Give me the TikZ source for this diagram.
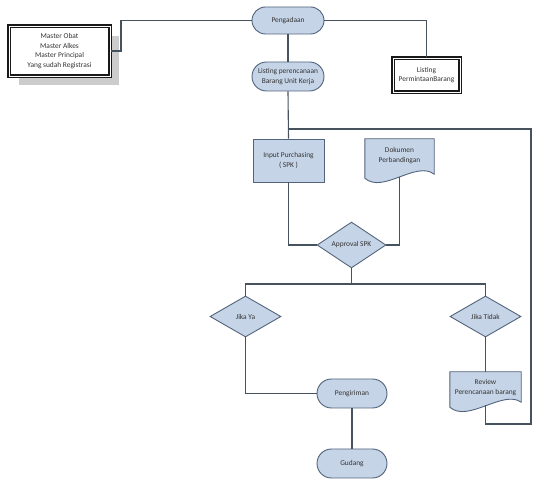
\documentclass[tikz,border=0pt]{standalone}
\usepackage{fontspec}
\setmainfont{Carlito}
\usetikzlibrary{shapes.geometric,shapes.misc,shadows,calc}
\definecolor{fillblue}{HTML}{C6D4E7}
\definecolor{edgeblue}{HTML}{52647C}
\definecolor{linec}{HTML}{46525E}
\definecolor{txt}{HTML}{333333}
\tikzset{
  base/.style={font=\fontsize{7.4}{9.7}\selectfont, text=txt, align=center, inner sep=0pt},
  term/.style={base, rounded rectangle, draw=edgeblue, fill=fillblue, line width=0.9pt},
  procbox/.style={base, rectangle, draw=edgeblue, fill=fillblue, line width=0.9pt},
  decide/.style={base, diamond, draw=edgeblue, fill=fillblue, line width=0.9pt},
  docnode/.style={base, rectangle},
  docline/.style={draw=edgeblue, fill=fillblue, line width=0.9pt},
  databox/.style={base, rectangle, draw=black!90, double=white, double distance=0.6pt, line width=1.3pt, fill=white},
  conn/.style={draw=linec, line width=1.1pt},
}
\begin{document}
\begin{tikzpicture}[x=1pt,y=-1pt]
\useasboundingbox (0,0) rectangle (550,497);
% shadow of master box
\fill[gray!40] (19,36) rectangle (119,85);
% nodes
\node[term, minimum width=72, minimum height=27] (peng) at (288,20.5) {Pengadaan};
\node[term, minimum width=72, minimum height=29] (lpr) at (288,76.5) {Listing perencanaan\\Barang Unit Kerja};
\node[databox, minimum width=101, minimum height=50] (master) at (59.5,51) {Master Obat\\Master Alkes\\Master Principal\\Yang sudah Registrasi};
\node[databox, minimum width=67, minimum height=34] (listing) at (426.5,75) {Listing\\PermintaanBarang};
\node[procbox, minimum width=71, minimum height=43] (input) at (288.5,160.5) {Input Purchasing\\( SPK )};
% document: Dokumen Perbandingan
\node[docnode, minimum width=69, minimum height=33] (dok) at (399.5,155.5) {};
\path[docline] (dok.north west) -- (dok.north east) -- ($(dok.south east)+(0,2)$)
  .. controls ($(dok.south east)+(-18,-12)$) and ($(dok.south west)+(18,22)$) .. ($(dok.south west)+(0,6)$) -- cycle;
\node[base] at (dok.center) {Dokumen\\Perbandingan};
\coordinate (dokb) at ($(dok.south)+(0,4.75)$);
\node[decide, minimum width=69, minimum height=42] (appr) at (351.5,245) {Approval SPK};
\node[decide, minimum width=71, minimum height=41] (ya) at (245.5,316.5) {Jika Ya};
\node[decide, minimum width=71, minimum height=41] (tidak) at (485.5,316.5) {Jika Tidak};
\node[term, minimum width=70, minimum height=29] (kirim) at (352,393.5) {Pengiriman};
\node[term, minimum width=70, minimum height=29] (gudang) at (352,463.5) {Gudang};
% document: Review
\node[docnode, minimum width=71, minimum height=31] (review) at (485.5,387.5) {};
\path[docline] (review.north west) -- (review.north east) -- ($(review.south east)+(0,-1)$)
  .. controls ($(review.south east)+(-18,-14)$) and ($(review.south west)+(18,20)$) .. ($(review.south west)+(0,4)$) -- cycle;
\node[base] at (review.center) {Review\\Perencanaan barang};
\coordinate (revb) at ($(review.south)+(0,2.1)$);
% junction coordinates
\coordinate (m1) at (121,20.5);
\coordinate (j1) at (288,129);
\coordinate (j2) at (351.5,284);
\coordinate (r1) at (485.5,424);
\coordinate (r2) at (531,424);
\coordinate (r3) at (531,129);
% connectors
\draw[conn] (peng.west) -- (m1) |- (master.east);
\draw[conn] (peng.east) -| (listing.north);
\draw[conn] (peng.south) -- (lpr.north);
\draw[conn] (lpr.south) -- (input.north);
\draw[conn] (input.south) |- (appr.west);
\draw[conn] (dokb) |- (appr.east);
\draw[conn] (appr.south) -- (j2);
\draw[conn] (ya.north) |- (j2) -| (tidak.north);
\draw[conn] (ya.south) |- (kirim.west);
\draw[conn] (kirim.south) -- (gudang.north);
\draw[conn] (tidak.south) -- (review.north);
\draw[conn] (revb) -- (r1) -- (r2) -- (r3) -- (j1);
\end{tikzpicture}
\end{document}
